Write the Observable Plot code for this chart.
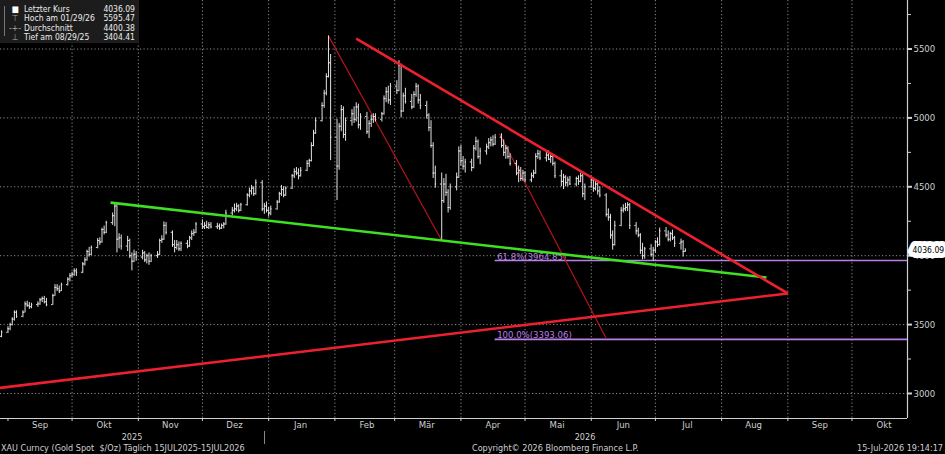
<!DOCTYPE html>
<html>
<head>
<meta charset="utf-8">
<script src="https://cdn.jsdelivr.net/npm/d3@7"></script>
<script src="https://cdn.jsdelivr.net/npm/@observablehq/plot@0.6"></script>
<style>
  html, body { margin: 0; padding: 0; background: #000; }
  #wrap { position: relative; width: 945px; height: 454px; overflow: hidden; background: #000;
          font-family: "Liberation Sans Narrow", "DejaVu Sans Condensed", "Roboto Condensed", "Arial Narrow", sans-serif; }
  #chart { position: absolute; left: 0; top: 0; }
  #legend { position: absolute; left: 0; top: 0; width: 139px; height: 43px; background: #1c1c1c;
            font-size: 8.5px; color: #ececec; }
  #legend .row { position: absolute; left: 0; width: 139px; height: 10px; line-height: 10px; }
  #legend .sym { position: absolute; left: 8px; width: 14px; text-align: center; color: #aaa; }
  #legend .lab { position: absolute; left: 24px; }
  #legend .val { position: absolute; right: 4px; }
  #legend .tree { position: absolute; left: 4px; top: 6px; width: 1px; height: 30px; background: #777; }
  .foot { position: absolute; font-size: 9px; color: #d0d0d0; white-space: pre; line-height: 10px; }
  #sep { position: absolute; left: 264px; top: 431px; width: 1px; height: 13px; background: #888; }
</style>
</head>
<body>
<div id="wrap">
  <div id="chart"></div>
  <div id="legend"></div>
  <div id="sep"></div>
</div>
<script>
// ---------------- DATA ----------------
const firstBarDate = "2025-08-29"; // daily bars on trading days (Mon-Fri)
const opens = [
3415,3445,3470,3500,3540,3590,3560,3590,3650,3640,3630,3645,3650,3680,3690,3665,3645,3710,3770,3760,
3745,3790,3830,3855,3865,3890,3880,3940,3970,4030,4010,4060,4110,4100,4190,4170,4240,4290,4360,4120,
4130,4070,4110,4000,3960,4010,3990,4020,3970,4000,3960,4000,4010,4110,4120,4220,4170,4080,4060,4080,
4050,4090,4070,4130,4160,4170,4230,4210,4220,4205,4225,4210,4215,4200,4220,4230,4310,4330,4340,4360,
4330,4370,4440,4470,4490,4450,4530,4340,4360,4330,4310,4340,4390,4450,4480,4440,4490,4580,4610,4600,
4580,4620,4670,4690,4800,4890,4980,5090,5180,5300,5400,4860,4650,4940,5060,4880,4980,5030,4990,5080,
4950,5010,4900,4960,4990,5010,4990,5030,5140,5190,5130,5230,5200,5380,5050,5160,5120,5080,5170,5230,
5130,5090,5020,4930,4800,4600,4520,4400,4520,4460,4350,4500,4570,4760,4690,4650,4680,4640,4780,4830,
4720,4760,4790,4820,4840,4810,4860,4800,4750,4780,4720,4670,4600,4620,4560,4600,4550,4580,4600,4720,
4740,4710,4730,4700,4720,4670,4580,4540,4570,4530,4550,4520,4560,4540,4580,4450,4500,4550,4490,4520,
4470,4440,4300,4280,4150,4080,4220,4330,4340,4350,4370,4220,4180,4150,4040,4000,4050,4010,4040,4100,
4080,4180,4150,4120,4160,4130,4090,4100,4030];
const highs = [
3455,3485,3510,3550,3600,3600,3600,3665,3670,3660,3655,3665,3690,3700,3705,3690,3720,3790,3790,3780,
3800,3840,3870,3880,3905,3905,3950,3985,4040,4060,4070,4125,4130,4200,4215,4250,4310,4385,4380,4160,
4150,4140,4120,4020,4040,4030,4040,4030,4010,4020,4010,4030,4120,4145,4245,4240,4180,4110,4110,4100,
4100,4110,4140,4180,4190,4240,4260,4240,4250,4240,4240,4235,4230,4230,4240,4330,4350,4375,4380,4370,
4380,4450,4490,4510,4500,4550,4545,4380,4390,4350,4360,4400,4460,4510,4500,4500,4590,4630,4640,4630,
4640,4690,4700,4820,4910,5000,5110,5200,5320,5595.47,5460,4990,4960,5090,5080,5000,5060,5080,5110,5100,
5030,5040,4980,5020,5030,5030,5040,5160,5220,5230,5250,5270,5415,5390,5180,5215,5170,5190,5250,5240,
5170,5120,5030,4980,4820,4650,4600,4560,4590,4480,4520,4600,4790,4800,4720,4700,4700,4800,4860,4840,
4780,4810,4850,4860,4870,4880,4885,4840,4800,4790,4740,4690,4650,4640,4620,4610,4600,4620,4740,4765,
4760,4750,4760,4740,4730,4680,4620,4590,4580,4570,4575,4570,4580,4600,4590,4520,4570,4560,4540,4530,
4500,4450,4340,4300,4180,4250,4350,4370,4380,4385,4380,4240,4200,4160,4090,4060,4080,4060,4110,4130,
4200,4205,4180,4170,4185,4140,4120,4110,4050];
const lows = [
3404.41,3435,3455,3490,3525,3545,3550,3585,3625,3610,3615,3625,3640,3660,3650,3630,3640,3705,3740,3725,
3740,3780,3810,3840,3850,3850,3870,3925,3960,3990,4000,4050,4075,4090,4150,4160,4220,4210,4020,4050,
4040,4030,3980,3890,3950,3960,3970,3950,3940,3930,3950,3980,4000,4090,4110,4150,4060,4020,4040,4030,
4030,4050,4060,4110,4140,4160,4190,4190,4195,4190,4195,4190,4185,4190,4195,4220,4290,4310,4320,4310,
4320,4360,4420,4440,4430,4440,4320,4300,4310,4280,4290,4330,4380,4430,4420,4430,4480,4560,4580,4550,
4570,4610,4640,4680,4790,4880,4970,5070,5160,5290,4690,4400,4620,4900,4850,4830,4940,4960,4970,4920,
4910,4880,4850,4930,4960,4970,4970,5020,5110,5100,5090,5170,5190,5000,5040,5100,5060,5070,5150,5100,
5060,4990,4900,4780,4560,4490,4110,4380,4430,4310,4330,4470,4560,4650,4620,4600,4610,4630,4760,4700,
4660,4730,4770,4790,4790,4800,4780,4720,4700,4700,4650,4580,4530,4540,4540,4530,4530,4560,4590,4700,
4690,4680,4690,4670,4650,4560,4500,4480,4500,4500,4510,4500,4510,4530,4420,4400,4490,4460,4470,4440,
4420,4280,4250,4120,4040,4070,4210,4310,4320,4320,4190,4150,4130,4010,3970,3975,3990,3960,4020,4060,
4070,4130,4100,4100,4110,4060,4040,3990,4025];
const closes = [
3445,3470,3500,3540,3590,3560,3590,3650,3640,3630,3645,3650,3680,3690,3665,3645,3710,3770,3760,3745,
3790,3830,3855,3865,3890,3880,3940,3970,4030,4010,4060,4110,4100,4190,4170,4240,4290,4360,4120,4130,
4070,4110,4000,3960,4010,3990,4020,3970,4000,3960,4000,4010,4110,4120,4220,4170,4080,4060,4080,4050,
4090,4070,4130,4160,4170,4230,4210,4220,4205,4225,4210,4215,4200,4220,4230,4310,4330,4340,4360,4330,
4370,4440,4470,4490,4450,4530,4340,4360,4330,4310,4340,4390,4450,4480,4440,4490,4580,4610,4600,4580,
4620,4670,4690,4800,4890,4980,5090,5180,5300,5400,4860,4650,4940,5060,4880,4980,5030,4990,5080,4950,
5010,4900,4960,4990,5010,4990,5030,5140,5190,5130,5230,5200,5380,5050,5160,5120,5080,5170,5230,5130,
5090,5020,4930,4800,4600,4520,4400,4520,4460,4350,4500,4570,4760,4690,4650,4680,4640,4780,4830,4720,
4760,4790,4820,4840,4810,4860,4800,4750,4780,4720,4670,4600,4620,4560,4600,4550,4580,4600,4720,4740,
4710,4730,4700,4720,4670,4580,4540,4570,4530,4550,4520,4560,4540,4580,4450,4500,4550,4490,4520,4470,
4440,4300,4280,4150,4080,4220,4330,4340,4350,4370,4220,4180,4150,4040,4000,4050,4010,4040,4100,4080,
4180,4150,4120,4160,4130,4090,4100,4030,4036.09];

// trend lines drawn on the chart (start/end date and price)
const trendNames       = ["support", "upper", "lower", "channelA", "channelB"];
const trendStartDates  = ["2025-10-19", "2026-02-11", "2025-08-28", "2026-01-29", "2026-04-19"];
const trendStartValues = [4385, 5576, 3040, 5595.47, 4885];
const trendEndDates    = ["2026-08-22", "2026-09-01", "2026-09-01", "2026-03-23", "2026-06-08"];
const trendEndValues   = [3842, 3726, 3726, 4110, 3399];

// Fibonacci levels
const fibLabels = ["61.8%", "100.0%"];
const fibValues = [3964.85, 3393.06];
const fibStartDate = "2026-04-17";

// axes
const yTickValues  = [3000, 3500, 4000, 4500, 5000, 5500];
const yMinorValues = [3250, 3750, 4250, 4750, 5250, 5750];
const monthLabels  = ["Sep","Okt","Nov","Dez","Jan","Feb","Mär","Apr","Mai","Jun","Jul","Aug","Sep","Okt"];
const yearLabels   = ["2025", "2026"];

// legend
const legendLabels = ["Letzter Kurs", "Hoch am 01/29/26", "Durchschnitt", "Tief am 08/29/25"];
const legendValues = ["4036.09", "5595.47", "4400.38", "3404.41"];
const legendSymbols = ["\u25A0", "\u22A4", "-+-", "\u22A5"];

// footer
const footLeft = "XAU Curncy (Gold Spot  $/Oz) Täglich 15JUL2025-15JUL2026";
const footMid = "Copyright\u00A9 2026 Bloomberg Finance L.P.";
const footRight = "15-Jul-2026 19:14:17";

// ---------------- BUILD ----------------
const FONT = '"Liberation Sans Narrow", "DejaVu Sans Condensed", "Roboto Condensed", "Arial Narrow", sans-serif';
const BAR = "#e2e2e2", AXIS = "#cfcfcf", GRID = "#8c8c8c";
const RED = "#ee2030", DARKRED = "#b3141c", GREEN = "#3fe024", PURPLE = "#b97fe6";

const DAY = 864e5;
function tradingDays(startStr, n) {
  const out = [];
  let t = new Date(startStr + "T00:00:00Z");
  while (out.length < n) {
    const wd = t.getUTCDay();
    if (wd !== 0 && wd !== 6) out.push(new Date(+t));
    t = new Date(+t + DAY);
  }
  return out;
}
const dates = tradingDays(firstBarDate, closes.length);
const bars = dates.map((d, i) => ({date: d, open: opens[i], high: highs[i], low: lows[i], close: closes[i]}));

const trends = trendNames.map((name, i) => ({
  name,
  x1: new Date(trendStartDates[i] + "T00:00:00Z"), y1: trendStartValues[i],
  x2: new Date(trendEndDates[i] + "T00:00:00Z"), y2: trendEndValues[i]
}));
const fibs = fibLabels.map((label, i) => ({label, value: fibValues[i]}));
const fibStart = new Date(fibStartDate + "T00:00:00Z");

const xStart = new Date("2025-08-28T12:00:00Z");
const xEnd = new Date("2026-10-27T00:00:00Z");
const yDomain = [2818.5, 5852];

const monthStarts = d3.utcMonth.range(new Date("2025-09-01T00:00:00Z"), new Date("2026-10-02T00:00:00Z"));
const monthMids = monthStarts.map(d => new Date(Date.UTC(d.getUTCFullYear(), d.getUTCMonth(), 16)));
const midLabel = new Map(monthMids.map((d, i) => [+d, monthLabels[i]]));
const HALF = 0.62 * DAY;
const last = bars[bars.length - 1];

const chart = Plot.plot({
  width: 945, height: 454,
  marginLeft: 0, marginRight: 38, marginTop: 0, marginBottom: 36,
  style: {background: "#000", color: AXIS, fontFamily: FONT, fontSize: "9.5px", overflow: "visible"},
  x: {type: "utc", domain: [xStart, xEnd], axis: null},
  y: {domain: yDomain, axis: null},
  marks: [
    Plot.gridY(yTickValues, {stroke: GRID, strokeOpacity: 1, strokeDasharray: "1.2,2.3"}),
    Plot.gridX(monthStarts.slice(1), {stroke: GRID, strokeOpacity: 1, strokeDasharray: "1.2,2.3"}),
    Plot.ruleY([yDomain[0]], {stroke: AXIS, strokeWidth: 1.2}),
    Plot.ruleX([xEnd], {stroke: AXIS, strokeWidth: 1.2}),
    Plot.axisY(yTickValues, {anchor: "right", label: null, tickSize: 4, tickPadding: 2, strokeWidth: 2,
                             stroke: AXIS, fill: AXIS, tickFormat: d => String(d)}),
    Plot.axisY(yMinorValues, {anchor: "right", label: null, tickSize: 3, tickFormat: () => "", stroke: AXIS}),
    Plot.axisX(monthStarts, {anchor: "bottom", label: null, tickSize: 3, tickFormat: () => "", stroke: AXIS}),
    Plot.axisX(monthMids, {anchor: "bottom", label: null, tickSize: 0, tickPadding: 3, fill: AXIS,
                           tickFormat: d => midLabel.get(+d)}),

    // Fibonacci lines
    Plot.ruleY(fibs, {y: "value", x1: () => fibStart, x2: () => xEnd, stroke: PURPLE, strokeWidth: 1.6}),
    Plot.text(fibs, {x: () => fibStart, y: "value", text: d => `${d.label}(${d.value.toFixed(2)})`,
                     textAnchor: "start", lineAnchor: "bottom", dx: 2, dy: -1, fill: PURPLE, fontSize: 9.5}),

    // thin channel lines
    Plot.link(trends.filter(t => t.name.startsWith("channel")),
              {x1: "x1", y1: "y1", x2: "x2", y2: "y2", stroke: DARKRED, strokeWidth: 1.2}),

    // OHLC bars
    Plot.ruleX(bars, {x: "date", y1: "low", y2: "high", stroke: BAR, strokeWidth: 1}),
    Plot.ruleY(bars, {y: "open", x1: d => new Date(+d.date - HALF), x2: "date", stroke: BAR, strokeWidth: 1}),
    Plot.ruleY(bars, {y: "close", x1: "date", x2: d => new Date(+d.date + HALF), stroke: BAR, strokeWidth: 1}),

    // thick trend lines
    Plot.link(trends.filter(t => t.name === "support"),
              {x1: "x1", y1: "y1", x2: "x2", y2: "y2", stroke: GREEN, strokeWidth: 2.6}),
    Plot.link(trends.filter(t => t.name === "upper" || t.name === "lower"),
              {x1: "x1", y1: "y1", x2: "x2", y2: "y2", stroke: RED, strokeWidth: 2.6}),

    // last price tag on right axis
    Plot.text([last], {x: () => xEnd, y: "close", text: () => "\u25C0", fill: "#fff", fontSize: 8, dx: 3}),
    Plot.text([last], {x: () => xEnd, y: "close", text: d => d.close.toFixed(2), textAnchor: "start", dx: 5,
                       fill: "#000", stroke: "#fff", strokeWidth: 10, strokeLinejoin: "round", fontSize: 8.5})
  ]
});
document.getElementById("chart").appendChild(chart);

// legend
const legend = document.getElementById("legend");
const tree = document.createElement("div"); tree.className = "tree"; legend.appendChild(tree);
legendLabels.forEach((lab, i) => {
  const row = document.createElement("div");
  row.className = "row";
  row.style.top = (3.5 + i * 9.5) + "px";
  const s = document.createElement("span"); s.className = "sym"; s.textContent = legendSymbols[i];
  if (i === 0) s.style.color = "#fff";
  const l = document.createElement("span"); l.className = "lab"; l.textContent = lab;
  const v = document.createElement("span"); v.className = "val"; v.textContent = legendValues[i];
  row.append(s, l, v);
  legend.appendChild(row);
});

// year labels and footer
const wrap = document.getElementById("wrap");
function addFoot(text, left, top, align) {
  const el = document.createElement("div");
  el.className = "foot";
  el.textContent = text;
  el.style.top = top + "px";
  if (align === "center") { el.style.left = left + "px"; el.style.transform = "translateX(-50%)"; }
  else if (align === "right") { el.style.right = left + "px"; }
  else el.style.left = left + "px";
  wrap.appendChild(el);
}
addFoot(yearLabels[0], 132, 432, "center");
addFoot(yearLabels[1], 585, 432, "center");
addFoot(footLeft, 1, 443, "left");
addFoot(footMid, 472, 443, "left");
addFoot(footRight, 2, 443, "right");
</script>
</body>
</html>
